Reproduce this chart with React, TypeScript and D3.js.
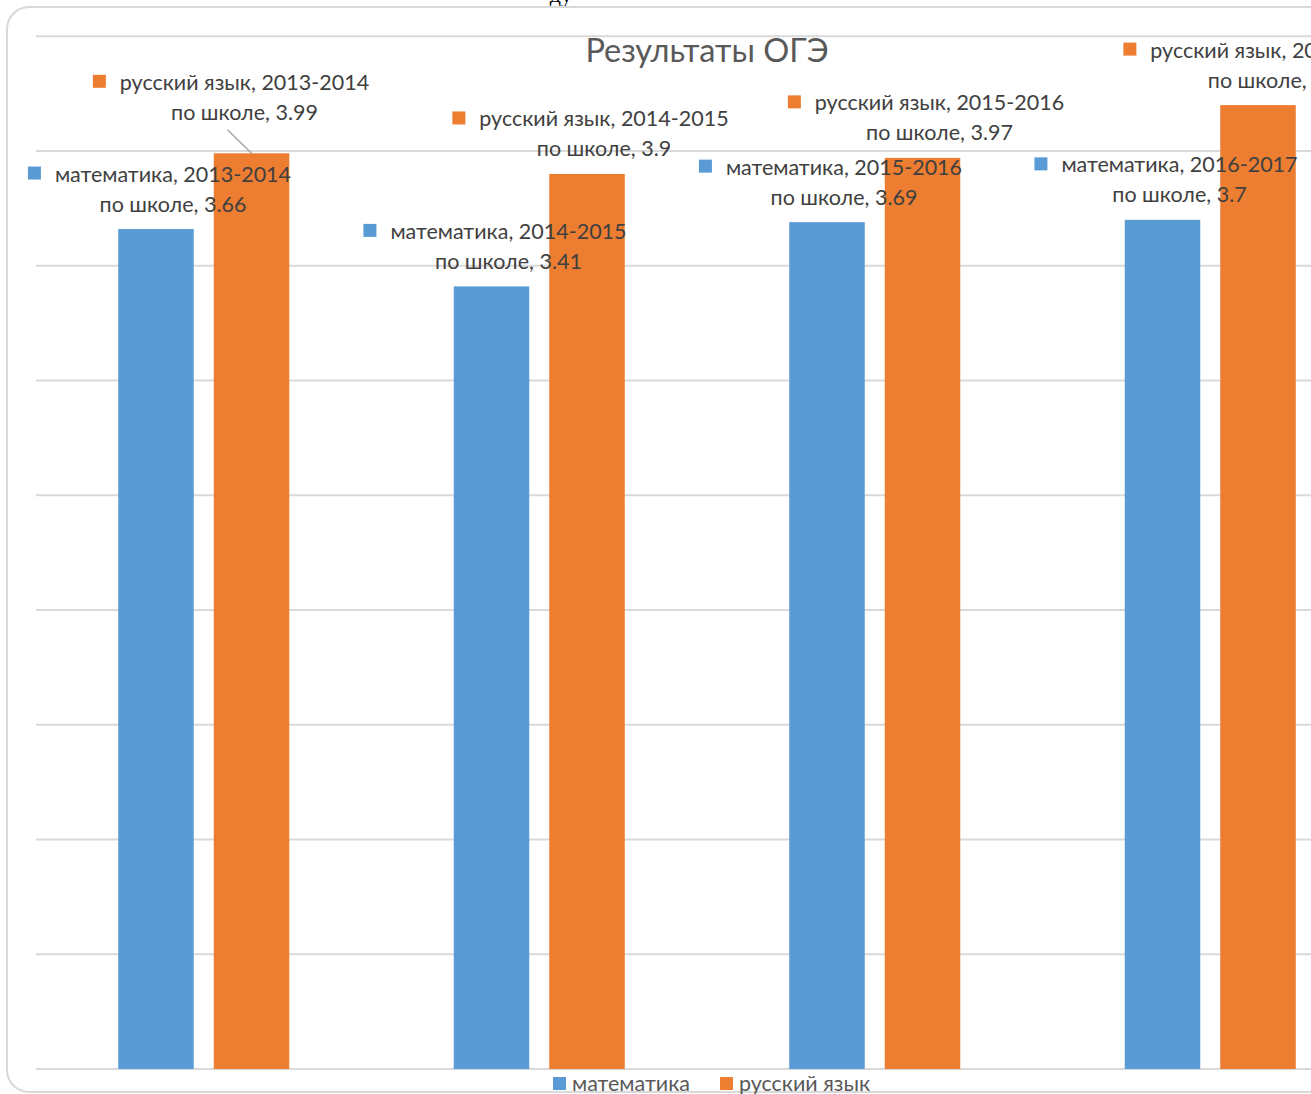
import * as React from 'react';
import * as d3 from 'd3';

const categories = ['2013-2014', '2014-2015', '2015-2016', '2016-2017'];
const seriesNames = ['математика', 'русский язык'];
const mathValues = [3.66, 3.41, 3.69, 3.7];
const russianValues = [3.99, 3.9, 3.97, 4.2];
const seriesColors = ['#5b9bd5', '#ed7d31'];
const title = 'Результаты ОГЭ';

// labels that were dragged away from their bars in the original (series, category, dx, dy)
const labelNudges = [{ s: 1, c: 0, dx: -24, dy: -16 }];

const W = 1311;
const H = 1094;
const FONT = 'Lato, "Open Sans", sans-serif';

export default function App() {
  const svgRef = React.useRef<SVGSVGElement | null>(null);

  React.useEffect(() => {
    if (!svgRef.current) return;
    const svg = d3.select(svgRef.current);
    svg.selectAll('*').remove();

    const plot = { left: 36, top: 36.25, bottom: 1069, right: 36 + 4 * 335.5 };

    const x0 = d3.scaleBand<string>().domain(categories).range([plot.left, plot.right]).padding(0);
    const x1 = d3
      .scaleBand<string>()
      .domain(seriesNames)
      .range([0, x0.bandwidth()])
      .paddingInner(0.2094)
      .paddingOuter(0.861);
    const y = d3.scaleLinear().domain([0, 4.5]).range([plot.bottom, plot.top]);

    // stray document text above the chart
    svg.append('text')
      .attr('x', 572).attr('y', 2)
      .attr('text-anchor', 'end')
      .attr('font-family', '"Liberation Serif", serif')
      .attr('font-size', 22)
      .attr('fill', '#000')
      .text('ду');

    // chart frame
    svg.append('rect')
      .attr('x', 7).attr('y', 7)
      .attr('width', 1420).attr('height', 1085)
      .attr('rx', 22)
      .attr('fill', '#fff')
      .attr('stroke', '#d9d9d9')
      .attr('stroke-width', 2);

    // gridlines
    svg.append('g')
      .selectAll('line')
      .data(y.ticks(9))
      .join('line')
      .attr('x1', plot.left).attr('x2', plot.right)
      .attr('y1', (d) => y(d)).attr('y2', (d) => y(d))
      .attr('stroke', '#d9d9d9')
      .attr('stroke-width', 2);

    // title
    svg.append('text')
      .attr('x', 707).attr('y', 62)
      .attr('text-anchor', 'middle')
      .attr('font-family', FONT)
      .attr('font-size', 32.5)
      .attr('fill', '#595959')
      .text(title);

    const seriesValues = [mathValues, russianValues];

    // bars
    seriesValues.forEach((vals, s) => {
      svg.append('g')
        .selectAll('rect')
        .data(vals)
        .join('rect')
        .attr('x', (_, i) => x0(categories[i])! + x1(seriesNames[s])!)
        .attr('y', (d) => y(d))
        .attr('width', x1.bandwidth())
        .attr('height', (d) => y(0) - y(d))
        .attr('fill', seriesColors[s]);
    });

    // data labels
    const labels = svg.append('g').attr('font-family', FONT).attr('font-size', 21.5).attr('fill', '#404040');
    seriesValues.forEach((vals, s) => {
      vals.forEach((v, i) => {
        const cx = x0(categories[i])! + x1(seriesNames[s])! + x1.bandwidth() / 2;
        const top = y(v);
        const nudge = labelNudges.find((n) => n.s === s && n.c === i);
        const dx = nudge ? nudge.dx : 0;
        const dy = nudge ? nudge.dy : 0;
        const tx = cx + 17 + dx;
        const base2 = top - 17.5 + dy;
        const base1 = base2 - 30;
        const t1 = labels.append('text')
          .attr('x', tx).attr('y', base1)
          .attr('text-anchor', 'middle')
          .text(`${seriesNames[s]}, ${categories[i]}`);
        labels.append('text')
          .attr('x', tx).attr('y', base2)
          .attr('text-anchor', 'middle')
          .text(`по школе, ${v}`);
        const w = (t1.node() as SVGTextElement).getComputedTextLength();
        labels.append('rect')
          .attr('x', tx - w / 2 - 27).attr('y', base1 - 15)
          .attr('width', 13).attr('height', 13)
          .attr('fill', seriesColors[s]);
        if (nudge) {
          svg.append('line')
            .attr('x1', tx - 17).attr('y1', base2 + 10)
            .attr('x2', cx).attr('y2', top)
            .attr('stroke', '#a6a6a6')
            .attr('stroke-width', 1.5);
        }
      });
    });

    // legend
    const legend = svg.append('g').attr('font-family', FONT).attr('font-size', 21.5).attr('fill', '#595959');
    const legendX = [553, 720];
    seriesNames.forEach((name, s) => {
      legend.append('rect')
        .attr('x', legendX[s]).attr('y', 1077)
        .attr('width', 13).attr('height', 13)
        .attr('fill', seriesColors[s]);
      legend.append('text')
        .attr('x', legendX[s] + 19).attr('y', 1091)
        .text(name);
    });
  }, []);

  return (
    <div style={{ position: 'absolute', left: 0, top: 0, width: W, height: H, overflow: 'hidden', background: '#fff' }}>
      <svg ref={svgRef} width={W} height={H} style={{ display: 'block' }} />
    </div>
  );
}
